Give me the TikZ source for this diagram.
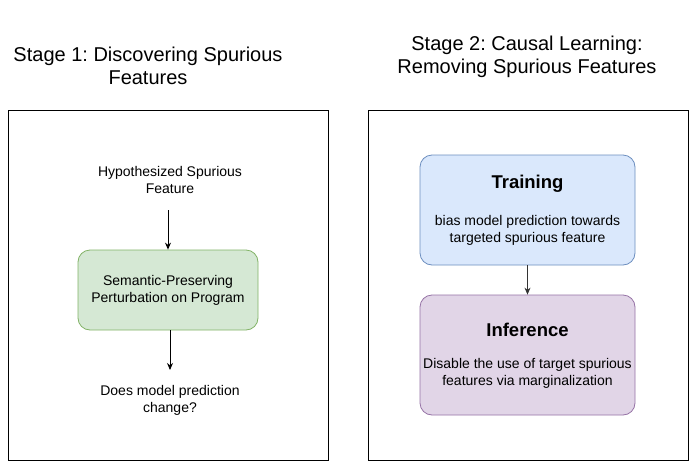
\documentclass[tikz,border=0pt]{standalone}
\usepackage{fontspec}
\setmainfont{Liberation Sans}
\frenchspacing
\usetikzlibrary{arrows.meta}
\definecolor{gfill}{HTML}{D5E8D4}\definecolor{gdraw}{HTML}{82B366}
\definecolor{bfill}{HTML}{DAE8FC}\definecolor{bdraw}{HTML}{6C8EBF}
\definecolor{pfill}{HTML}{E1D5E7}\definecolor{pdraw}{HTML}{9673A6}
\tikzset{
  frame/.style={draw=black, line width=1pt, fill=white},
  rbox/.style={rounded corners=12pt, line width=0.8pt, align=center, font=\fontsize{14}{17}\selectfont, inner sep=0pt},
  plain/.style={align=center, font=\fontsize{14}{17}\selectfont, inner sep=0pt},
  title/.style={align=center, font=\fontsize{20}{23.5}\selectfont, inner sep=0pt},
  head/.style={font=\bfseries\fontsize{18.5}{22}\selectfont, inner sep=0pt},
  arr/.style={-{Stealth[length=7pt,width=6pt]}, line width=0.9pt}
}
\begin{document}
\begin{tikzpicture}[x=1pt,y=-1pt]
\useasboundingbox (0,0) rectangle (689,461);
\fill[white] (0,0) rectangle (689,461);
\draw[frame] (8,110) rectangle (328,460);
\draw[frame] (368,110) rectangle (688,460);
\node[title] (t1) at (148,66) {Stage 1: Discovering Spurious\\Features};
\node[title] (t2) at (527,57) {Stage 2: Causal Learning:\\Removing Spurious Features};
\node[plain] (hyp) at (170,180) {Hypothesized Spurious\\Feature};
\node[rbox, fill=gfill, draw=gdraw, minimum width=180pt, minimum height=80pt] (sp) at (168,290) {Semantic-Preserving\\Perturbation on Program};
\node[plain] (does) at (170,400) {Does model prediction\\change?};
\coordinate (a1s) at (168,210);
\draw[arr] (a1s) -- (sp.north);
\coordinate (a2s) at (170,330);
\coordinate (a2e) at (170,370);
\draw[arr] (a2s) -- (a2e);
\node[rbox, fill=bfill, draw=bdraw, minimum width=215pt, minimum height=110pt] (tr) at (527.5,210) {};
\node[head] (trt) at (527.5,184) {Training};
\node[plain] (trb) at (527.5,230) {bias model prediction towards\\targeted spurious feature};
\node[rbox, fill=pfill, draw=pdraw, minimum width=215pt, minimum height=120pt] (inf) at (527.5,355) {};
\node[head] (inft) at (527.5,330) {Inference};
\node[plain] (infb) at (527.5,373) {Disable the use of target spurious\\features via marginalization};
\draw[arr, draw=black!80] (tr.south) -- (inf.north);
\end{tikzpicture}
\end{document}
